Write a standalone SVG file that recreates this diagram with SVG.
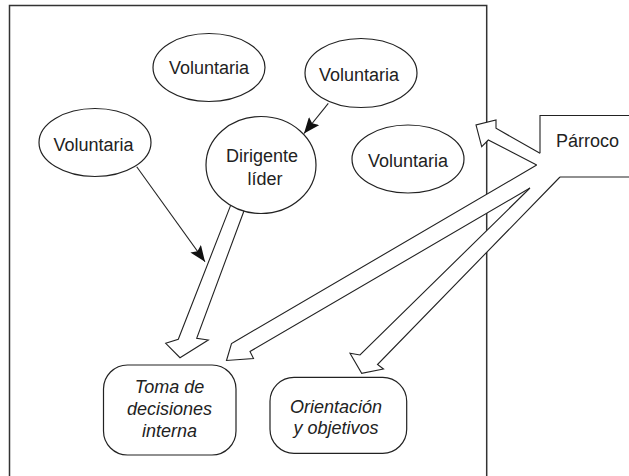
<svg xmlns="http://www.w3.org/2000/svg" width="629" height="476" viewBox="0 0 629 476">
<style>
.frame{fill:none;stroke:#333;stroke-width:1.5}
.node{fill:#fff;stroke:#222;stroke-width:1.2}
.lbl{font-family:"Liberation Sans",Arial,sans-serif;font-size:18px;fill:#222;text-anchor:middle}
.it{font-style:italic}
.block{fill:#fff;stroke:#222;stroke-width:1.1;stroke-linejoin:miter}
.thin{fill:none;stroke:#222;stroke-width:1.1}
</style>
<defs>
<marker id="ah" markerUnits="userSpaceOnUse" markerWidth="16" markerHeight="13" refX="16" refY="6.5" orient="auto">
<path d="M0,0 L16,6.5 L0,13 L3,6.5 z" fill="#111"/>
</marker>
</defs>
<path class="frame" d="M9.5,476 V5.5 H486.7 V476"/>
<g id="connectors">
<line class="thin" x1="136.7" y1="166.7" x2="205" y2="261.7" marker-end="url(#ah)"/>
<line class="thin" x1="328.3" y1="103.3" x2="304" y2="133.5" marker-end="url(#ah)"/>
<path class="block" d="M231.8,202.4 L178.3,339.3 L165.7,343.3 L180,357.7 L208.3,340 L196.7,338.3 L245.8,206"/>
<path class="block" d="M540,153.3 L496,128.3 L496,120 L476,125 L481.7,146.7 L488.3,140 L536.7,165"/>
<path class="block" d="M536.7,165 L235,341.5 L231.5,343.5 L226.5,360.5 L253.5,358.5 L250,351.5 L530,188"/>
<path class="block" d="M530,188 L360,355 L350,353.3 L361.7,373.3 L383.5,369 L377.5,364.5 L560,177"/>
</g>
<g id="voluntaria1">
<ellipse class="node" cx="209" cy="67.5" rx="56" ry="34"/>
<text class="lbl" x="209" y="74">Voluntaria</text>
</g>
<g id="voluntaria2">
<ellipse class="node" cx="361" cy="73" rx="56" ry="34.5"/>
<text class="lbl" x="359" y="81">Voluntaria</text>
</g>
<g id="voluntaria3">
<ellipse class="node" cx="95" cy="142.5" rx="56" ry="34"/>
<text class="lbl" x="93.5" y="150.7">Voluntaria</text>
</g>
<g id="voluntaria4">
<ellipse class="node" cx="408" cy="159" rx="56" ry="34"/>
<text class="lbl" x="408" y="166.7">Voluntaria</text>
</g>
<g id="dirigente">
<ellipse class="node" cx="261" cy="165" rx="55" ry="48.5"/>
<text class="lbl" x="262" y="162.3">Dirigente</text>
<text class="lbl" x="265" y="185">líder</text>
</g>
<g id="parroco">
<path class="thin" d="M629,115.5 H540 V153.3 M560,177 H629"/>
<text class="lbl" x="587.5" y="147.3">Párroco</text>
</g>
<g id="toma">
<rect class="node" x="103.5" y="365" width="132.5" height="90" rx="24"/>
<text class="lbl it" x="169.5" y="393.3">Toma de</text>
<text class="lbl it" x="169.5" y="415">decisiones</text>
<text class="lbl it" x="169.5" y="436.7">interna</text>
</g>
<g id="orientacion">
<rect class="node" x="270" y="377.3" width="136.7" height="76" rx="24"/>
<text class="lbl it" x="336" y="412.7">Orientación</text>
<text class="lbl it" x="336" y="434">y objetivos</text>
</g>
</svg>
